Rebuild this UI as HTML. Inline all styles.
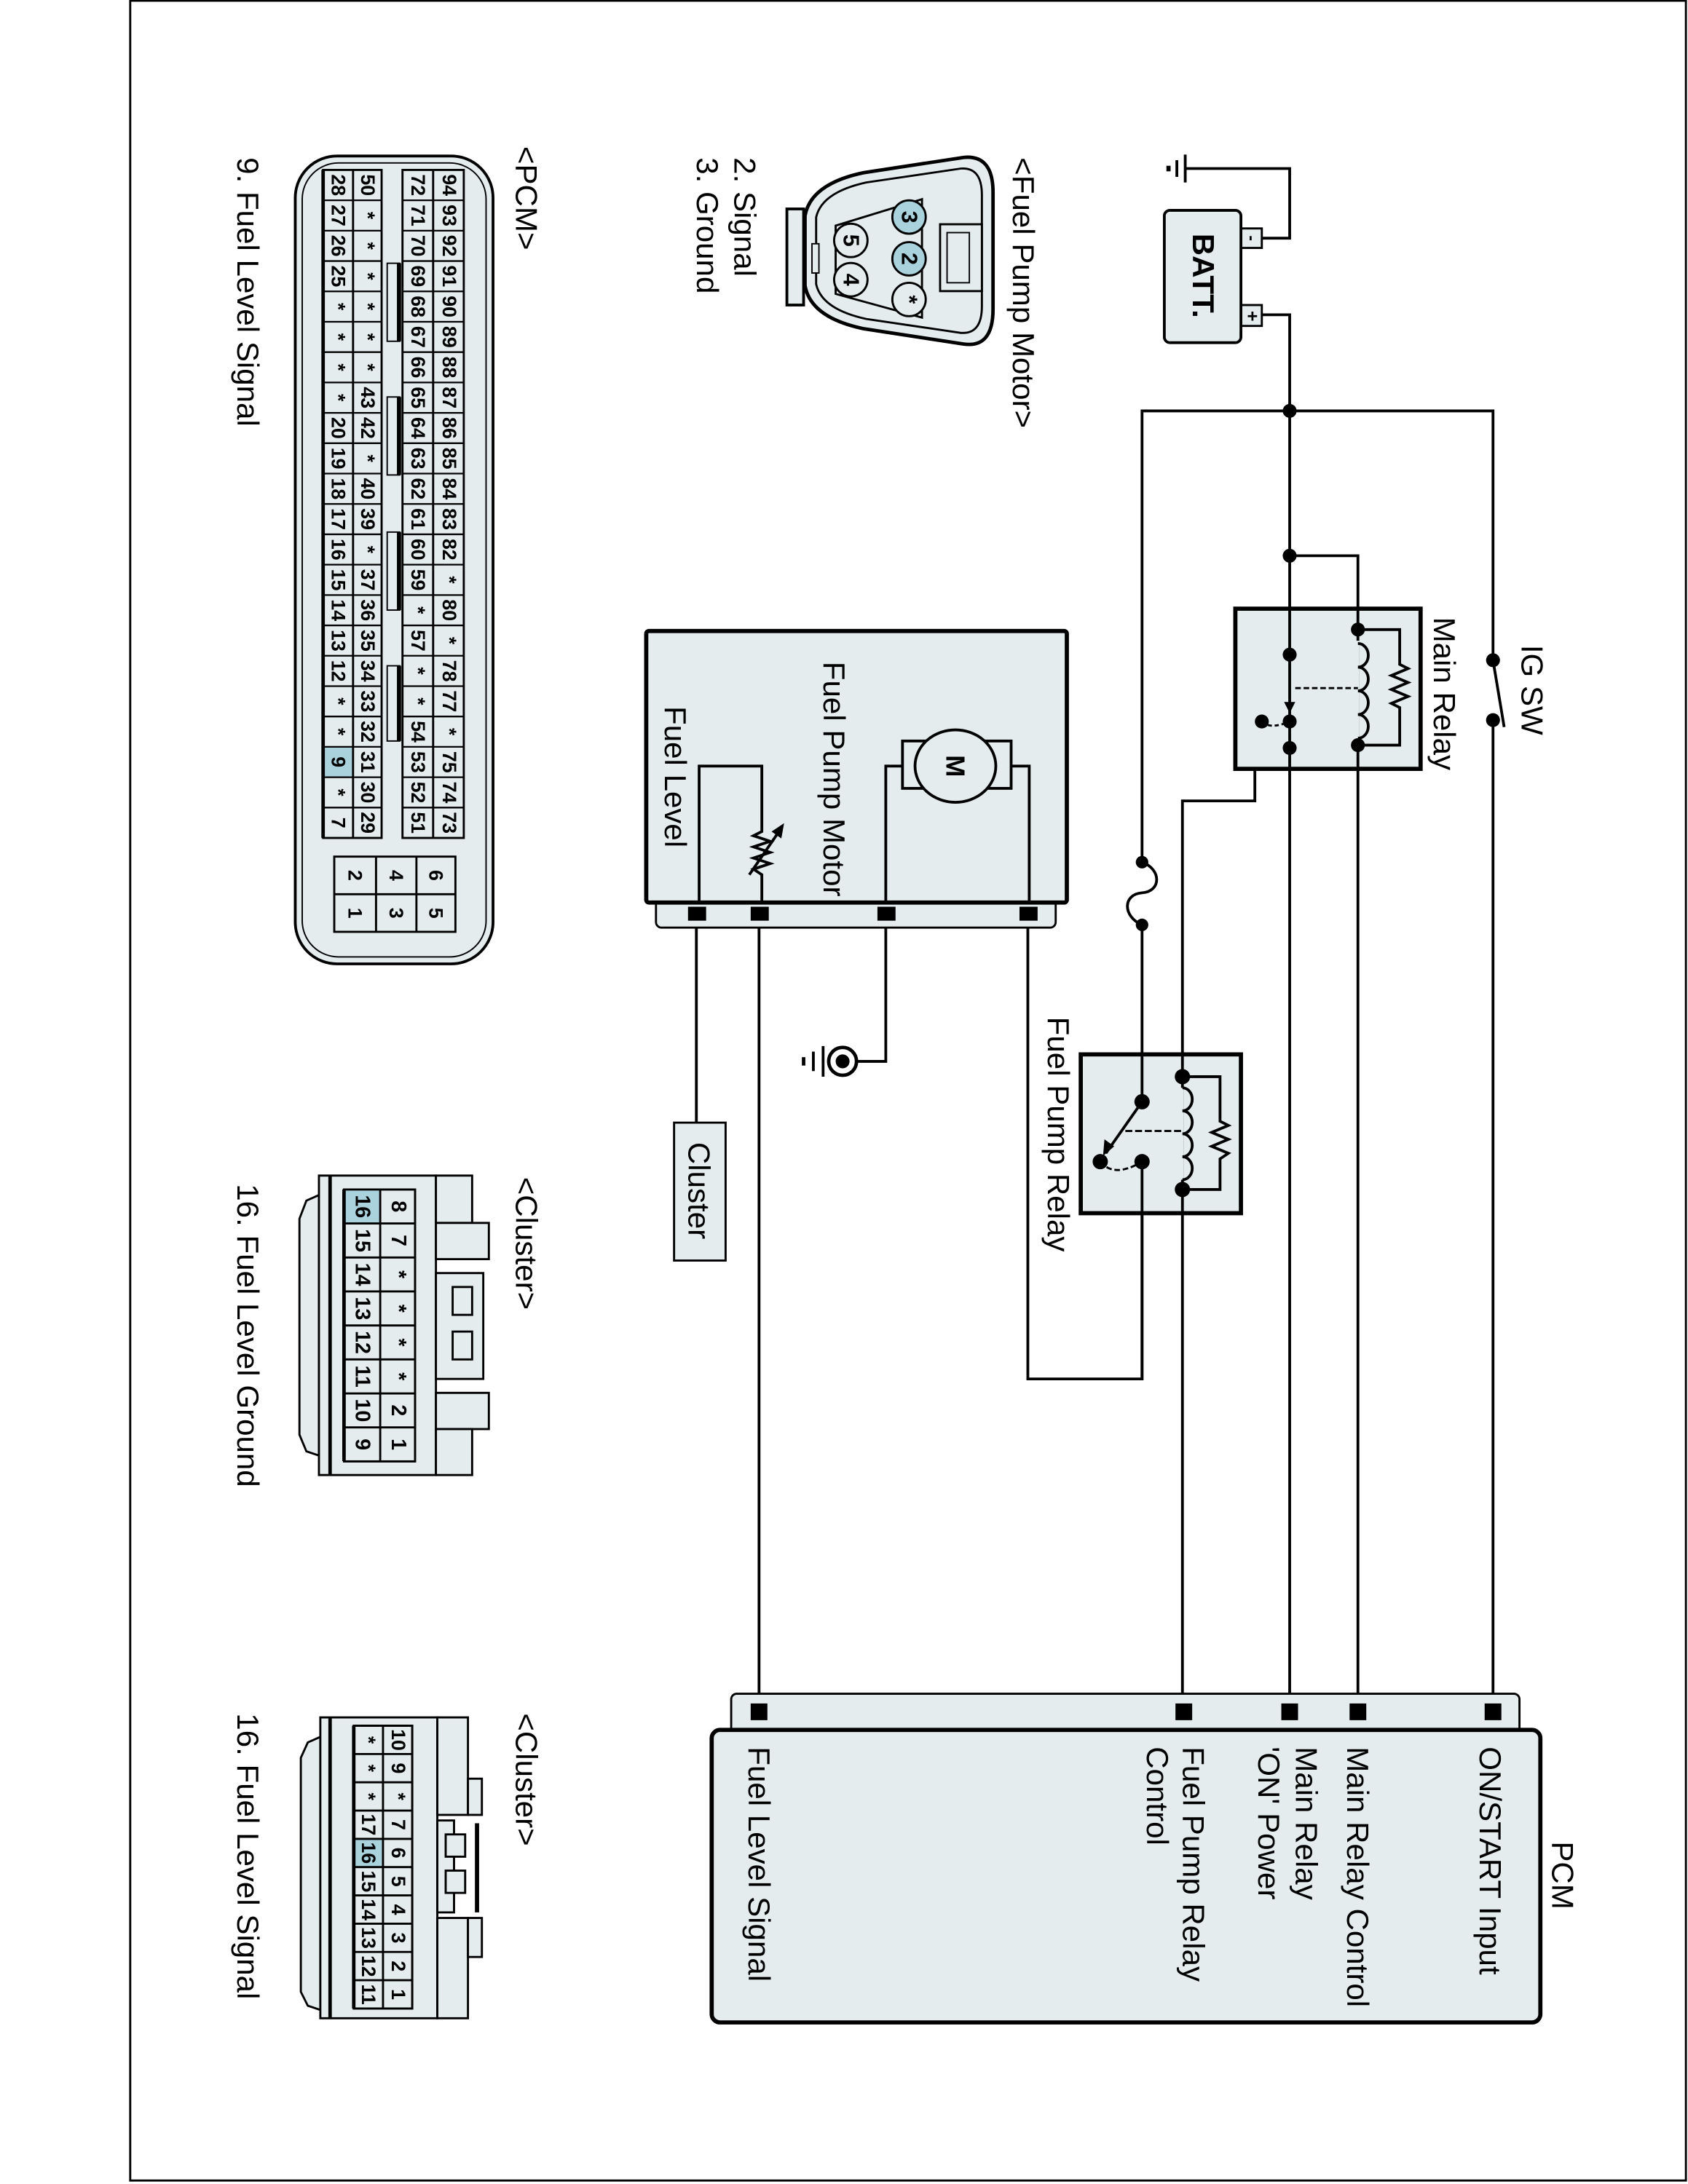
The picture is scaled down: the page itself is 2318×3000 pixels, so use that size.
<!DOCTYPE html>
<html><head><meta charset="utf-8"><style>html,body{margin:0;padding:0;background:#fff}svg{display:block}</style></head><body>
<svg width="2318" height="3000" viewBox="0 0 1212 1568" preserveAspectRatio="none" xmlns="http://www.w3.org/2000/svg" font-family="Liberation Sans, Arial, sans-serif">
<rect x="93.5" y="0.5" width="1117" height="1565" fill="#fff" stroke="#000" stroke-width="1.5"/>

<!-- ===== Wires ===== -->
<g fill="none" stroke="#000" stroke-width="2">
<polyline points="906,171 926,171 926,121 851,121"/>
<line x1="851" y1="111" x2="851" y2="131"/>
<line x1="845" y1="115" x2="845" y2="127"/>
<line x1="839" y1="119" x2="839" y2="123" stroke-width="3"/>
<polyline points="906,226 926,226 926,1229"/>
<polyline points="820,991 820,295 1072,295 1072,474"/>
<line x1="1072" y1="517" x2="1072" y2="1229"/>
<line x1="1072" y1="474" x2="1080" y2="522"/>
<polyline points="926,399 975,399 975,452"/>
<line x1="975" y1="535" x2="975" y2="1229"/>
<polyline points="926,537 901,537 901,575 849,575 849,773"/>
<line x1="849" y1="854" x2="849" y2="1229"/>
<polyline points="820,834 820,990 738,990 738,662"/>
<line x1="545" y1="662" x2="545" y2="1229"/>
<line x1="500" y1="662" x2="500" y2="806"/>
<polyline points="636,662 636,762 615,762"/>
</g>
<rect x="812" y="621" width="16" height="41" fill="#fff"/>
<path d="M820,619 C834,624 834,640 820,641 C806,642 806,658 820,664" fill="none" stroke="#000" stroke-width="2"/>
<circle cx="820" cy="619" r="4.5"/><circle cx="820" cy="664" r="4.5"/>
<circle cx="926" cy="295" r="5"/><circle cx="926" cy="399" r="5"/>

<!-- ===== Battery ===== -->
<rect x="891" y="164" width="15" height="14" fill="#e4ecee" stroke="#000" stroke-width="1.5"/>
<rect x="891" y="219" width="15" height="15" fill="#e4ecee" stroke="#000" stroke-width="1.5"/>
<text x="899" y="171" font-size="12" font-weight="bold" text-anchor="middle" dominant-baseline="central" transform="rotate(90 899 171)">-</text>
<text x="899" y="227" font-size="13" font-weight="bold" text-anchor="middle" dominant-baseline="central" transform="rotate(90 899 227)">+</text>
<rect x="836" y="151" width="55" height="95" rx="4" fill="#e4ecee" stroke="#000" stroke-width="2"/>
<text x="864" y="198" font-size="22" font-weight="bold" text-anchor="middle" dominant-baseline="central" transform="rotate(90 864 198)">BATT.</text>

<!-- ===== Main relay ===== -->
<rect x="887" y="437" width="133" height="115" fill="#e4ecee" stroke="#000" stroke-width="3"/>
<g fill="none" stroke="#000" stroke-width="2">
<line x1="926" y1="437" x2="926" y2="552"/>
<line x1="975" y1="437" x2="975" y2="552"/>
<polyline points="975,452 1005,452 1005,477 1011,480 999,485 1011,490 999,495 1011,500 999,505 1005,508 1005,535 975,535"/>
</g>
<rect x="970" y="460" width="6" height="70" fill="#e4ecee"/>
<path d="M975,462 a7,8 0 1 1 0,17 a7,8 0 1 1 0,17 a7,8 0 1 1 0,17 a7,8 0 1 1 0,17" fill="none" stroke="#000" stroke-width="2"/>
<line x1="930" y1="494" x2="975" y2="494" stroke="#000" stroke-width="1.5" stroke-dasharray="4,2"/>
<path d="M906,518 Q912,524 926,518" fill="none" stroke="#000" stroke-width="1.5" stroke-dasharray="3,2"/>
<polygon points="922,504 930,504 926,512"/>
<circle cx="926" cy="470" r="5"/><circle cx="926" cy="518" r="5"/><circle cx="926" cy="537" r="5"/>
<circle cx="906" cy="518" r="5"/><circle cx="975" cy="452" r="5"/><circle cx="975" cy="535" r="5"/>
<circle cx="1072" cy="474" r="5"/><circle cx="1072" cy="517" r="5"/>
<text x="1037" y="443" font-size="22" dominant-baseline="central" transform="rotate(90 1037 443)">Main Relay</text>
<text x="1100" y="463" font-size="22" dominant-baseline="central" transform="rotate(90 1100 463)">IG SW</text>

<!-- ===== Fuel pump relay ===== -->
<rect x="776" y="757" width="115" height="114" fill="#e4ecee" stroke="#000" stroke-width="3"/>
<g fill="none" stroke="#000" stroke-width="2">
<line x1="820" y1="757" x2="820" y2="791"/>
<line x1="820" y1="834" x2="820" y2="871"/>
<line x1="849" y1="757" x2="849" y2="871"/>
<polyline points="849,773 876,773 876,805 882,808 870,813 882,818 870,823 882,828 876,832 876,854 849,854"/>
<line x1="820" y1="791" x2="794" y2="828"/>
</g>
<rect x="844" y="781" width="6" height="66" fill="#e4ecee"/>
<path d="M849,781 a7,8.2 0 1 1 0,16.5 a7,8.2 0 1 1 0,16.5 a7,8.2 0 1 1 0,16.5 a7,8.2 0 1 1 0,16.5" fill="none" stroke="#000" stroke-width="2"/>
<line x1="808" y1="812" x2="849" y2="812" stroke="#000" stroke-width="1.5" stroke-dasharray="5,2"/>
<path d="M790,834 Q800,846 820,834" fill="none" stroke="#000" stroke-width="1.5" stroke-dasharray="4,2"/>
<polygon points="792,830 793,818 800,823"/>
<circle cx="820" cy="791" r="5.5"/><circle cx="790" cy="834" r="5.5"/><circle cx="820" cy="834" r="5.5"/>
<circle cx="849" cy="773" r="5.5"/><circle cx="849" cy="854" r="5.5"/>
<text x="760" y="730" font-size="22" dominant-baseline="central" transform="rotate(90 760 730)">Fuel Pump Relay</text>

<!-- ===== Fuel pump motor box ===== -->
<rect x="471" y="640" width="287" height="26" rx="4" fill="#e4ecee" stroke="#000" stroke-width="1.5"/>
<rect x="464" y="453" width="302" height="195" rx="2" fill="#e4ecee" stroke="#000" stroke-width="3"/>
<g fill="none" stroke="#000" stroke-width="2">
<polyline points="636,648 636,550 648,550"/>
<polyline points="739,648 739,550 726,550"/>
<rect x="648" y="532" width="78" height="34" fill="#e4ecee"/>
<ellipse cx="686" cy="550" rx="29" ry="26" fill="#e4ecee"/>
<polyline points="502,648 502,550 547,550 547,597 541,600 553,604 541,608 553,612 541,616 553,620 541,624 547,628 547,648"/>
<line x1="538" y1="628" x2="560" y2="596"/>
</g>
<polygon points="563,591 554,597 561,602"/>
<text x="686" y="550" font-size="19" font-weight="bold" text-anchor="middle" dominant-baseline="central" transform="rotate(90 686 550)">M</text>
<text x="599" y="475" font-size="22" dominant-baseline="central" transform="rotate(90 599 475)">Fuel Pump Motor</text>
<text x="485" y="507" font-size="22" dominant-baseline="central" transform="rotate(90 485 507)">Fuel Level</text>
<rect x="494" y="651" width="13" height="10"/><rect x="539" y="651" width="13" height="10"/>
<rect x="630" y="651" width="13" height="10"/><rect x="732" y="651" width="13" height="10"/>

<circle cx="605" cy="762" r="10" fill="#fff" stroke="#000" stroke-width="2.5"/>
<circle cx="605" cy="762" r="5"/>
<line x1="591" y1="751" x2="591" y2="773" stroke="#000" stroke-width="2"/>
<line x1="584" y1="755" x2="584" y2="769" stroke="#000" stroke-width="2"/>
<line x1="577" y1="759" x2="577" y2="765" stroke="#000" stroke-width="2.5"/>

<rect x="484" y="806" width="37" height="99" fill="#e4ecee" stroke="#000" stroke-width="1.5"/>
<text x="502" y="820" font-size="22" dominant-baseline="central" transform="rotate(90 502 820)">Cluster</text>

<!-- ===== PCM ===== -->
<rect x="525" y="1216" width="566" height="34" rx="4" fill="#e4ecee" stroke="#000" stroke-width="1.5"/>
<rect x="511" y="1242" width="595" height="210" rx="6" fill="#e4ecee" stroke="#000" stroke-width="3"/>
<rect x="539" y="1223" width="12" height="12"/><rect x="844" y="1223" width="12" height="12"/>
<rect x="920" y="1223" width="12" height="12"/><rect x="969" y="1223" width="12" height="12"/>
<rect x="1066" y="1223" width="12" height="12"/>
<g font-size="22" dominant-baseline="central">
<text x="1122" y="1322" transform="rotate(90 1122 1322)">PCM</text>
<text x="1070" y="1254" transform="rotate(90 1070 1254)">ON/START Input</text>
<text x="975" y="1254" transform="rotate(90 975 1254)">Main Relay Control</text>
<text x="938" y="1254" transform="rotate(90 938 1254)">Main Relay</text>
<text x="911" y="1254" transform="rotate(90 911 1254)">'ON' Power</text>
<text x="857" y="1254" transform="rotate(90 857 1254)">Fuel Pump Relay</text>
<text x="831" y="1254" transform="rotate(90 831 1254)">Control</text>
<text x="545" y="1254" transform="rotate(90 545 1254)">Fuel Level Signal</text>
</g>

<g font-size="22" dominant-baseline="central">
<text x="735" y="113" transform="rotate(90 735 113)">&lt;Fuel Pump Motor&gt;</text>
<text x="535" y="113" transform="rotate(90 535 113)">2. Signal</text>
<text x="508" y="113" transform="rotate(90 508 113)">3. Ground</text>
<text x="378" y="105" transform="rotate(90 378 105)">&lt;PCM&gt;</text>
<text x="178" y="113" transform="rotate(90 178 113)">9. Fuel Level Signal</text>
<text x="378" y="845" transform="rotate(90 378 845)">&lt;Cluster&gt;</text>
<text x="178" y="850" transform="rotate(90 178 850)">16. Fuel Level Ground</text>
<text x="378" y="1230" transform="rotate(90 378 1230)">&lt;Cluster&gt;</text>
<text x="178" y="1230" transform="rotate(90 178 1230)">16. Fuel Level Signal</text>
</g>

<!-- ===== Fuel pump motor connector ===== -->
<rect x="565" y="150" width="12" height="69" fill="#e4ecee" stroke="#000" stroke-width="2"/>
<path d="M578,155 Q582,132 620,124 L692,113 Q713,111 713,138 L713,222 Q713,250 692,247 L620,236 Q582,228 578,205 Z" fill="#e4ecee" stroke="#000" stroke-width="2.5"/>
<path d="M586,156 Q590,138 622,131 L690,121 Q705,120 705,140 L705,220 Q705,240 690,239 L622,229 Q590,222 586,204 Z" fill="#e4ecee" stroke="#000" stroke-width="1.5"/>
<rect x="583" y="175" width="5" height="21" fill="#e4ecee" stroke="#000" stroke-width="1"/>
<rect x="675" y="161" width="30" height="48" fill="#e4ecee" stroke="#000" stroke-width="1.5"/>
<rect x="680" y="167" width="16" height="36" fill="#e4ecee" stroke="#000" stroke-width="1"/>
<polygon points="662,143 600,162 600,211 662,228" fill="#e4ecee" stroke="#000" stroke-width="1.5"/>
<g stroke="#000" stroke-width="1.5">
<circle cx="652.7" cy="155.8" r="12" fill="#a9d2dd"/>
<circle cx="652.7" cy="185.8" r="12" fill="#a9d2dd"/>
<circle cx="652.7" cy="215" r="12" fill="#e4ecee"/>
<circle cx="610.9" cy="172.6" r="12" fill="#e4ecee"/>
<circle cx="610.9" cy="200.8" r="12" fill="#e4ecee"/>
</g>
<g font-size="16" font-weight="bold" text-anchor="middle" dominant-baseline="central">
<text x="652.7" y="155.8" transform="rotate(90 652.7 155.8)">3</text>
<text x="652.7" y="185.8" transform="rotate(90 652.7 185.8)">2</text>
<text x="652.7" y="215" transform="rotate(90 652.7 215)">*</text>
<text x="610.9" y="172.6" transform="rotate(90 610.9 172.6)">5</text>
<text x="610.9" y="200.8" transform="rotate(90 610.9 200.8)">4</text>
</g>

<!-- ===== PCM connector ===== -->
<rect x="212" y="112" width="142" height="580" rx="30" fill="#e4ecee" stroke="#000" stroke-width="2"/>
<rect x="217" y="117" width="132" height="570" rx="26" fill="none" stroke="#000" stroke-width="1"/>
<rect x="289" y="122" width="44" height="479.6" fill="#e4ecee" stroke="#000" stroke-width="1.5"/>
<rect x="232" y="122" width="42" height="479.6" fill="#e4ecee" stroke="#000" stroke-width="1.5"/>
<rect x="232" y="536.2" width="21.5" height="21.8" fill="#a9d2dd"/>
<g stroke="#000" stroke-width="1.5">
<line x1="311" y1="122" x2="311" y2="601.6"/>
<line x1="253.5" y1="122" x2="253.5" y2="601.6"/>
<line x1="232" y1="122" x2="232" y2="601.6" stroke-width="2.5"/>
</g>
<path stroke="#000" stroke-width="1.2" d="M232,143.8H274M232,165.6H274M232,187.4H274M232,209.2H274M232,231H274M232,252.8H274M232,274.6H274M232,296.4H274M232,318.2H274M232,340H274M232,361.8H274M232,383.6H274M232,405.4H274M232,427.2H274M232,449H274M232,470.8H274M232,492.6H274M232,514.4H274M232,536.2H274M232,558H274M232,579.8H274M289,143.8H333M289,165.6H333M289,187.4H333M289,209.2H333M289,231H333M289,252.8H333M289,274.6H333M289,296.4H333M289,318.2H333M289,340H333M289,361.8H333M289,383.6H333M289,405.4H333M289,427.2H333M289,449H333M289,470.8H333M289,492.6H333M289,514.4H333M289,536.2H333M289,558H333M289,579.8H333"/>
<g fill="#e4ecee" stroke="#000" stroke-width="1">
<rect x="278" y="189" width="9" height="56"/><rect x="278" y="285" width="9" height="56"/>
<rect x="278" y="382" width="9" height="56"/><rect x="278" y="478" width="9" height="54"/>
</g>
<g fill="#000"><rect x="285" y="189" width="3" height="56"/><rect x="285" y="285" width="3" height="56"/><rect x="285" y="382" width="3" height="56"/><rect x="285" y="478" width="3" height="54"/></g>
<rect x="240" y="615" width="87" height="54" fill="#e4ecee" stroke="#000" stroke-width="1.5"/>
<path stroke="#000" stroke-width="1.5" d="M240,642H327M270,615V669M299,615V669"/>
<g font-size="14" font-weight="bold" text-anchor="middle" dominant-baseline="central">
<text transform="translate(313,628.5) rotate(90)">6</text><text transform="translate(313,655.5) rotate(90)">5</text>
<text transform="translate(284.5,628.5) rotate(90)">4</text><text transform="translate(284.5,655.5) rotate(90)">3</text>
<text transform="translate(255,628.5) rotate(90)">2</text><text transform="translate(255,655.5) rotate(90)">1</text>
<text transform="translate(322.5,132.9) rotate(90)">94</text><text transform="translate(322.5,154.7) rotate(90)">93</text><text transform="translate(322.5,176.5) rotate(90)">92</text><text transform="translate(322.5,198.3) rotate(90)">91</text><text transform="translate(322.5,220.1) rotate(90)">90</text><text transform="translate(322.5,241.9) rotate(90)">89</text><text transform="translate(322.5,263.7) rotate(90)">88</text><text transform="translate(322.5,285.5) rotate(90)">87</text><text transform="translate(322.5,307.3) rotate(90)">86</text><text transform="translate(322.5,329.1) rotate(90)">85</text><text transform="translate(322.5,350.9) rotate(90)">84</text><text transform="translate(322.5,372.7) rotate(90)">83</text><text transform="translate(322.5,394.5) rotate(90)">82</text><text transform="translate(322.5,416.3) rotate(90)">*</text><text transform="translate(322.5,438.1) rotate(90)">80</text><text transform="translate(322.5,459.9) rotate(90)">*</text><text transform="translate(322.5,481.7) rotate(90)">78</text><text transform="translate(322.5,503.5) rotate(90)">77</text><text transform="translate(322.5,525.3) rotate(90)">*</text><text transform="translate(322.5,547.1) rotate(90)">75</text><text transform="translate(322.5,568.9) rotate(90)">74</text><text transform="translate(322.5,590.7) rotate(90)">73</text>
<text transform="translate(300,132.9) rotate(90)">72</text><text transform="translate(300,154.7) rotate(90)">71</text><text transform="translate(300,176.5) rotate(90)">70</text><text transform="translate(300,198.3) rotate(90)">69</text><text transform="translate(300,220.1) rotate(90)">68</text><text transform="translate(300,241.9) rotate(90)">67</text><text transform="translate(300,263.7) rotate(90)">66</text><text transform="translate(300,285.5) rotate(90)">65</text><text transform="translate(300,307.3) rotate(90)">64</text><text transform="translate(300,329.1) rotate(90)">63</text><text transform="translate(300,350.9) rotate(90)">62</text><text transform="translate(300,372.7) rotate(90)">61</text><text transform="translate(300,394.5) rotate(90)">60</text><text transform="translate(300,416.3) rotate(90)">59</text><text transform="translate(300,438.1) rotate(90)">*</text><text transform="translate(300,459.9) rotate(90)">57</text><text transform="translate(300,481.7) rotate(90)">*</text><text transform="translate(300,503.5) rotate(90)">*</text><text transform="translate(300,525.3) rotate(90)">54</text><text transform="translate(300,547.1) rotate(90)">53</text><text transform="translate(300,568.9) rotate(90)">52</text><text transform="translate(300,590.7) rotate(90)">51</text>
<text transform="translate(264,132.9) rotate(90)">50</text><text transform="translate(264,154.7) rotate(90)">*</text><text transform="translate(264,176.5) rotate(90)">*</text><text transform="translate(264,198.3) rotate(90)">*</text><text transform="translate(264,220.1) rotate(90)">*</text><text transform="translate(264,241.9) rotate(90)">*</text><text transform="translate(264,263.7) rotate(90)">*</text><text transform="translate(264,285.5) rotate(90)">43</text><text transform="translate(264,307.3) rotate(90)">42</text><text transform="translate(264,329.1) rotate(90)">*</text><text transform="translate(264,350.9) rotate(90)">40</text><text transform="translate(264,372.7) rotate(90)">39</text><text transform="translate(264,394.5) rotate(90)">*</text><text transform="translate(264,416.3) rotate(90)">37</text><text transform="translate(264,438.1) rotate(90)">36</text><text transform="translate(264,459.9) rotate(90)">35</text><text transform="translate(264,481.7) rotate(90)">34</text><text transform="translate(264,503.5) rotate(90)">33</text><text transform="translate(264,525.3) rotate(90)">32</text><text transform="translate(264,547.1) rotate(90)">31</text><text transform="translate(264,568.9) rotate(90)">30</text><text transform="translate(264,590.7) rotate(90)">29</text>
<text transform="translate(243,132.9) rotate(90)">28</text><text transform="translate(243,154.7) rotate(90)">27</text><text transform="translate(243,176.5) rotate(90)">26</text><text transform="translate(243,198.3) rotate(90)">25</text><text transform="translate(243,220.1) rotate(90)">*</text><text transform="translate(243,241.9) rotate(90)">*</text><text transform="translate(243,263.7) rotate(90)">*</text><text transform="translate(243,285.5) rotate(90)">*</text><text transform="translate(243,307.3) rotate(90)">20</text><text transform="translate(243,329.1) rotate(90)">19</text><text transform="translate(243,350.9) rotate(90)">18</text><text transform="translate(243,372.7) rotate(90)">17</text><text transform="translate(243,394.5) rotate(90)">16</text><text transform="translate(243,416.3) rotate(90)">15</text><text transform="translate(243,438.1) rotate(90)">14</text><text transform="translate(243,459.9) rotate(90)">13</text><text transform="translate(243,481.7) rotate(90)">12</text><text transform="translate(243,503.5) rotate(90)">*</text><text transform="translate(243,525.3) rotate(90)">*</text><text transform="translate(243,547.1) rotate(90)">9</text><text transform="translate(243,568.9) rotate(90)">*</text><text transform="translate(243,590.7) rotate(90)">7</text>
</g>

<!-- ===== Cluster connector 1 ===== -->
<g fill="#e4ecee" stroke="#000" stroke-width="1.5">
<path d="M229,858 L220,862 L215,875 L215,1030 L220,1042 L229,1045 Z"/>
<rect x="229" y="844" width="84" height="215"/>
<rect x="313" y="844" width="26" height="34"/>
<rect x="313" y="878" width="38" height="26"/>
<rect x="313" y="914" width="34" height="76"/>
<rect x="325" y="924" width="14" height="20"/><rect x="325" y="956" width="14" height="20"/>
<rect x="313" y="1000" width="38" height="26"/>
<rect x="313" y="1026" width="26" height="33"/>
</g>
<line x1="237" y1="844" x2="237" y2="1059" stroke="#000" stroke-width="2.5"/>
<rect x="247" y="854" width="51" height="195.2" fill="#e4ecee" stroke="#000" stroke-width="1.5"/>
<rect x="247" y="854" width="26" height="24.4" fill="#a9d2dd"/>
<rect x="247" y="854" width="51" height="195.2" fill="none" stroke="#000" stroke-width="1.5"/>
<path stroke="#000" stroke-width="1.5" d="M273,854V1049.2M247,878.4H298M247,902.8H298M247,927.2H298M247,951.6H298M247,976H298M247,1000.4H298M247,1024.8H298"/>
<line x1="247" y1="854" x2="247" y2="1049" stroke="#000" stroke-width="2.5"/>
<g font-size="15" font-weight="bold" text-anchor="middle" dominant-baseline="central">
<text transform="translate(286,866.2) rotate(90)">8</text><text transform="translate(286,890.6) rotate(90)">7</text><text transform="translate(286,915) rotate(90)">*</text><text transform="translate(286,939.4) rotate(90)">*</text><text transform="translate(286,963.8) rotate(90)">*</text><text transform="translate(286,988.2) rotate(90)">*</text><text transform="translate(286,1012.6) rotate(90)">2</text><text transform="translate(286,1037) rotate(90)">1</text>
<text transform="translate(260,866.2) rotate(90)">16</text><text transform="translate(260,890.6) rotate(90)">15</text><text transform="translate(260,915) rotate(90)">14</text><text transform="translate(260,939.4) rotate(90)">13</text><text transform="translate(260,963.8) rotate(90)">12</text><text transform="translate(260,988.2) rotate(90)">11</text><text transform="translate(260,1012.6) rotate(90)">10</text><text transform="translate(260,1037) rotate(90)">9</text>
</g>

<!-- ===== Cluster connector 2 ===== -->
<g fill="#e4ecee" stroke="#000" stroke-width="1.5">
<path d="M230,1247 L221,1251 L216,1262 L216,1430 L221,1440 L230,1443 Z"/>
<rect x="230" y="1233" width="84" height="216"/>
<rect x="314" y="1233" width="22" height="70"/>
<rect x="336" y="1277" width="10" height="26"/>
<rect x="314" y="1307" width="12" height="66"/>
<rect x="320" y="1317" width="14" height="16"/><rect x="320" y="1343" width="14" height="16"/>
<rect x="314" y="1377" width="22" height="72"/>
<rect x="336" y="1377" width="10" height="28"/>
</g>
<rect x="341" y="1309" width="3" height="64"/>
<line x1="237" y1="1233" x2="237" y2="1449" stroke="#000" stroke-width="2.5"/>
<rect x="254" y="1239" width="42" height="203" fill="#e4ecee" stroke="#000" stroke-width="1.5"/>
<rect x="254" y="1320.2" width="21" height="20.3" fill="#a9d2dd"/>
<rect x="254" y="1239" width="42" height="203" fill="none" stroke="#000" stroke-width="1.5"/>
<path stroke="#000" stroke-width="1.5" d="M275,1239V1442M254,1259.3H296M254,1279.6H296M254,1299.9H296M254,1320.2H296M254,1340.5H296M254,1360.8H296M254,1381.1H296M254,1401.4H296M254,1421.7H296"/>
<line x1="254" y1="1239" x2="254" y2="1442" stroke="#000" stroke-width="2.5"/>
<g font-size="14" font-weight="bold" text-anchor="middle" dominant-baseline="central">
<text transform="translate(286,1249.2) rotate(90)">10</text><text transform="translate(286,1269.5) rotate(90)">9</text><text transform="translate(286,1289.8) rotate(90)">*</text><text transform="translate(286,1310) rotate(90)">7</text><text transform="translate(286,1330.3) rotate(90)">6</text><text transform="translate(286,1350.7) rotate(90)">5</text><text transform="translate(286,1371) rotate(90)">4</text><text transform="translate(286,1391.3) rotate(90)">3</text><text transform="translate(286,1411.6) rotate(90)">2</text><text transform="translate(286,1431.9) rotate(90)">1</text>
<text transform="translate(264.5,1249.2) rotate(90)">*</text><text transform="translate(264.5,1269.5) rotate(90)">*</text><text transform="translate(264.5,1289.8) rotate(90)">*</text><text transform="translate(264.5,1310) rotate(90)">17</text><text transform="translate(264.5,1330.3) rotate(90)">16</text><text transform="translate(264.5,1350.7) rotate(90)">15</text><text transform="translate(264.5,1371) rotate(90)">14</text><text transform="translate(264.5,1391.3) rotate(90)">13</text><text transform="translate(264.5,1411.6) rotate(90)">12</text><text transform="translate(264.5,1431.9) rotate(90)">11</text>
</g>
</svg>
</body></html>
